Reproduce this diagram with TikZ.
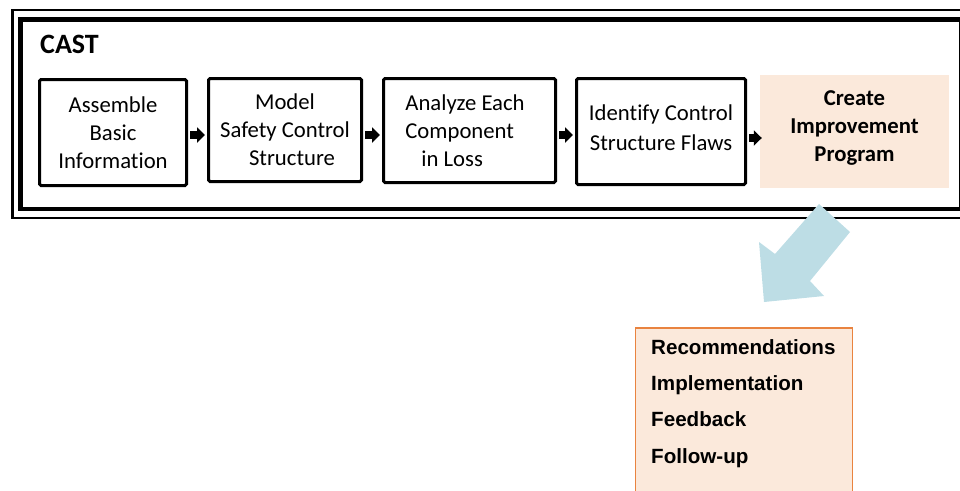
\documentclass[tikz,border=0pt]{standalone}
\usepackage{fontspec}
\setmainfont[Ligatures=NoCommon]{Carlito}
\newfontfamily\arialfont{Liberation Sans}
\usetikzlibrary{arrows.meta}
\definecolor{peach}{HTML}{FBE9DB}
\definecolor{orangeline}{HTML}{E9833F}
\definecolor{skyarrow}{HTML}{BDDDE5}
\begin{document}
\begin{tikzpicture}[x=1pt,y=-1pt,
  stepbox/.style={draw=black, line width=3pt, rounded corners=1.5pt, align=center,
    inner sep=0pt, font=\fontsize{22.7}{28}\selectfont},
  steptext/.style={align=center, inner sep=0pt, font=\fontsize{22.7}{29}\selectfont},
  finalbox/.style={fill=peach, inner sep=0pt},
  flow/.style={line width=8pt, -{Triangle[length=8pt,width=15pt]},
    shorten <=2pt, shorten >=2pt},
  listitem/.style={anchor=base west, inner sep=0pt,
    font=\arialfont\bfseries\fontsize{20.6}{24}\selectfont},
]
\useasboundingbox (0,0) rectangle (960,490);
\clip (0,0) rectangle (960,490);

% double frame around the CAST process
\draw[line width=2.8pt] (12.8,10) rectangle (970,218);
\draw[line width=4.3pt] (20.5,19.5) rectangle (961.5,209);

\node[anchor=west, inner sep=0pt, font=\fontsize{28}{32}\selectfont\bfseries] (title) at (40,44) {CAST};

% process steps
\node[stepbox, minimum width=147pt, minimum height=106pt] (s1) at (113,132.5)
  {Assemble\\Basic\\Information};
\node[stepbox, minimum width=153pt, minimum height=103pt] (s2) at (285,130)
  {Model\\Safety Control\\\hspace*{14pt}Structure};
\node[stepbox, minimum width=172pt, minimum height=104pt, align=left] (s3) at (469.5,130.5)
  {Analyze Each\hspace*{9pt}\\Component\\\hspace*{16pt}in Loss};
\node[stepbox, minimum width=169pt, minimum height=106pt] (s4) at (661,131.5) {};
\node[steptext, font=\fontsize{22.7}{30}\selectfont] (s4t) at (661,127.5)
  {Identify Control\\Structure Flaws};
\node[finalbox, minimum width=189pt, minimum height=113pt] (s5) at (854.5,131.5) {};
\node[steptext, font=\fontsize{22.7}{28}\selectfont\bfseries] (s5t) at (854.5,127.5)
  {Create\\Improvement\\Program};

% arrows between the steps
\draw[flow] (s1.east |- 0,135) -- (s2.west |- 0,135);
\draw[flow] (s2.east |- 0,135) -- (s3.west |- 0,135);
\draw[flow] (s3.east |- 0,135) -- (s4.west |- 0,135);
\draw[flow, shorten >=-2pt] (s4.east |- 0,138) -- (s5.west |- 0,138);

% improvement program contents
\node[draw=orangeline, line width=1.8pt, fill=peach, minimum width=217pt,
  minimum height=200pt, anchor=north west, inner sep=0pt] (plan) at (634.5,327) {};
\node[listitem] (r1) at (651,354.5) {Recommendations};
\node[listitem] (r2) at (651,390.5) {Implementation};
\node[listitem] (r3) at (651,426.5) {Feedback};
\node[listitem] (r4) at (651,463) {Follow-up};

% block arrow from the program step down to its contents
\fill[skyarrow] (819,204) -- (850,232) -- (810,281) -- (824,296) -- (764,302)
  -- (759,242) -- (775,254) -- cycle;
\end{tikzpicture}
\end{document}
